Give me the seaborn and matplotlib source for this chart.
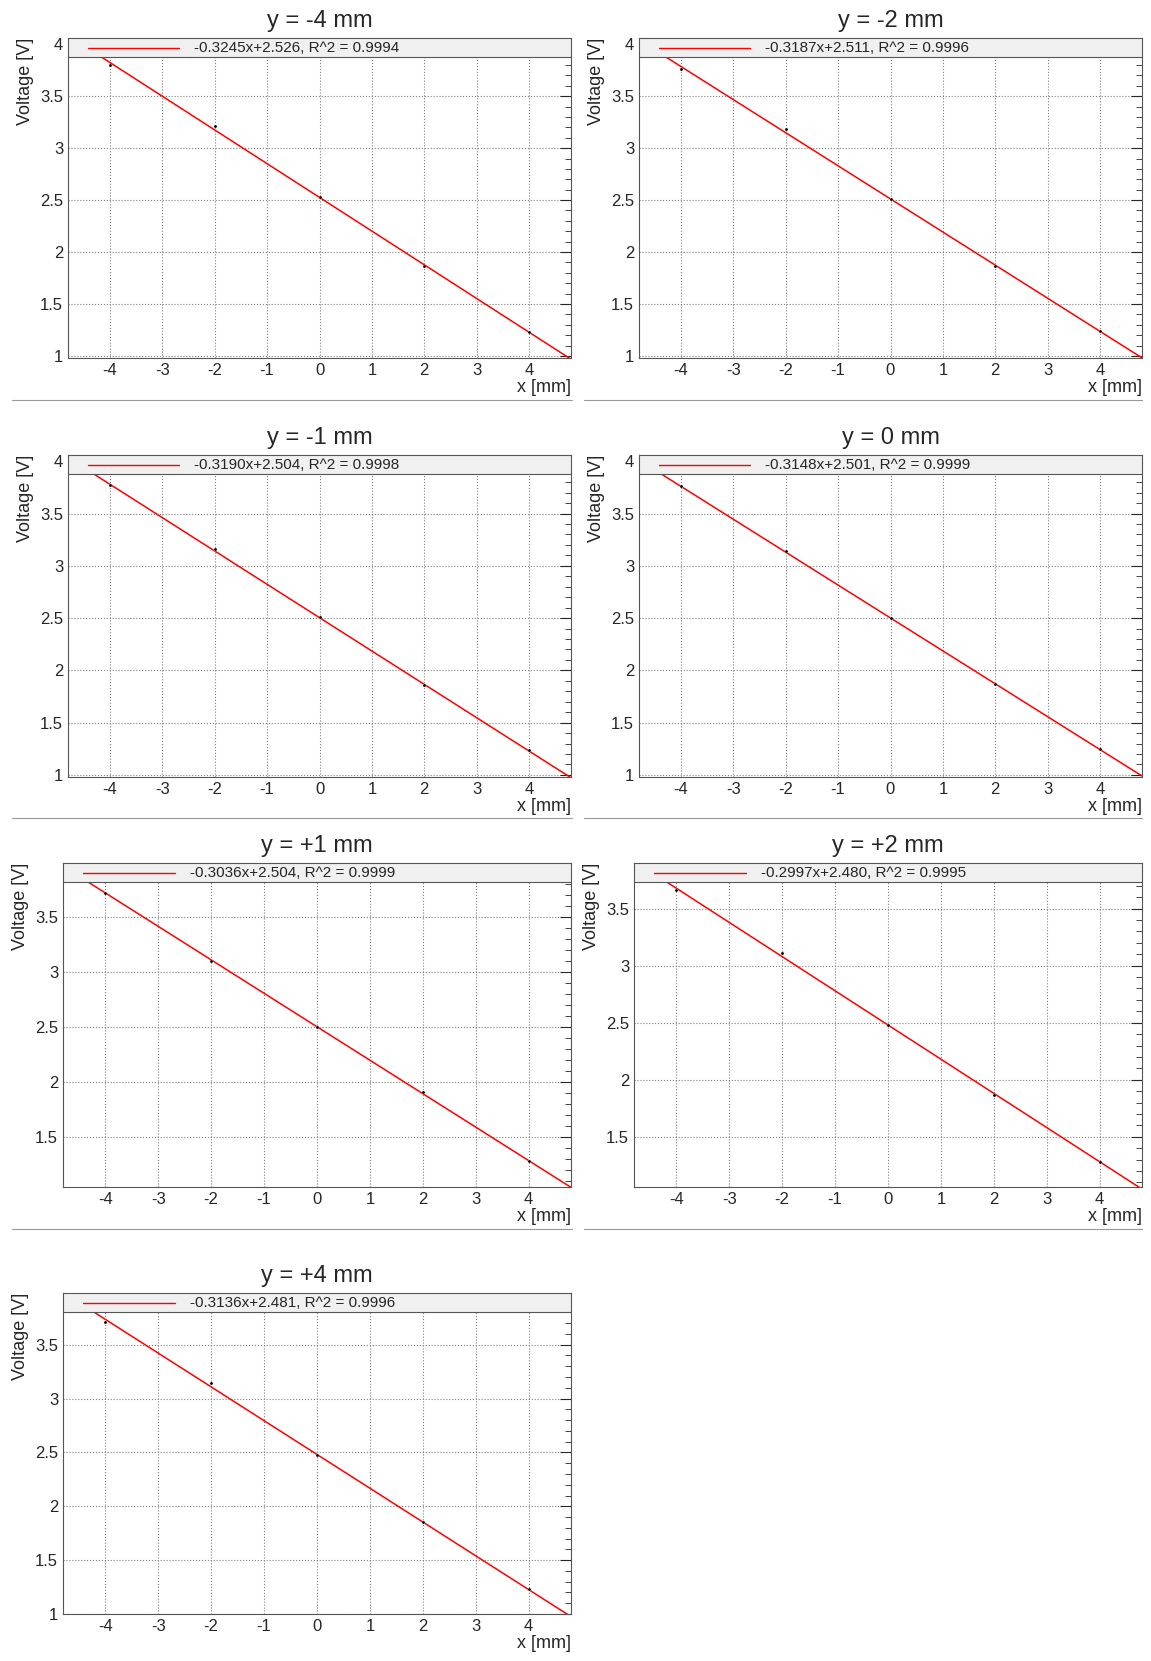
import numpy as np
import pandas as pd
import matplotlib
matplotlib.use("Agg")
import matplotlib.pyplot as plt
import seaborn as sns
from matplotlib.lines import Line2D
from matplotlib.patches import Rectangle
from matplotlib.ticker import MultipleLocator

sns.set_style("white")
plt.rcParams["font.family"] = ["Liberation Sans", "DejaVu Sans"]
plt.rcParams["axes.unicode_minus"] = False

x_pos = [-4, -2, 0, 2, 4]
titles = ["y = -4 mm", "y = -2 mm", "y = -1 mm", "y = 0 mm", "y = +1 mm", "y = +2 mm", "y = +4 mm"]
volts = [
    [3.80, 3.21, 2.53, 1.87, 1.23],
    [3.76, 3.18, 2.51, 1.87, 1.24],
    [3.77, 3.16, 2.51, 1.86, 1.24],
    [3.76, 3.14, 2.50, 1.87, 1.25],
    [3.72, 3.10, 2.50, 1.91, 1.29],
    [3.66, 3.11, 2.48, 1.87, 1.28],
    [3.71, 3.14, 2.48, 1.85, 1.23],
]
slopes = [-0.3245, -0.3187, -0.3190, -0.3148, -0.3036, -0.2997, -0.3136]
intercepts = [2.526, 2.511, 2.504, 2.501, 2.504, 2.480, 2.481]
r2 = [0.9994, 0.9996, 0.9998, 0.9999, 0.9999, 0.9995, 0.9996]
ylims = [(0.98, 4.06), (0.98, 4.06), (0.98, 4.06), (0.98, 4.06), (1.05, 3.99), (1.06, 3.90), (1.0, 3.98)]

W, H = 1151, 1661
fig = plt.figure(figsize=(W / 100, H / 100), dpi=100)

# axes boxes in pixels: left, top, right, bottom
col_x = [(68, 571), (639, 1142)]
row_y = [(38, 358), (455, 777), (863, 1187), (1293, 1614)]
sep_y = [400, 818, 1229]
col_line = [(12, 572), (584, 1142)]

for i in range(7):
    r, c = divmod(i, 2)
    l, rr = col_x[c]
    t, b = row_y[r]
    if i >= 4:
        l -= 5
    ax = fig.add_axes([l / W, 1 - b / H, (rr - l) / W, (b - t) / H])
    xs = np.linspace(-4.8, 4.8, 50)
    fit = pd.DataFrame({"x": xs, "v": slopes[i] * xs + intercepts[i]})
    pts = pd.DataFrame({"x": x_pos, "v": volts[i]})
    sns.lineplot(data=fit, x="x", y="v", ax=ax, color="red", lw=1.1)
    sns.scatterplot(data=pts, x="x", y="v", ax=ax, color="black", s=5, marker="o", zorder=5)
    ax.set_xlim(-4.8, 4.8)
    ax.set_ylim(*ylims[i])
    ax.xaxis.set_major_locator(MultipleLocator(1))
    ax.xaxis.set_minor_locator(MultipleLocator(0.2))
    ax.yaxis.set_major_locator(MultipleLocator(0.5))
    ax.yaxis.set_minor_locator(MultipleLocator(0.1))
    ax.yaxis.set_major_formatter(plt.FuncFormatter(lambda v, p: f"{v:g}"))
    ax.tick_params(which="both", direction="in", top=True, right=True, labelsize=12)
    ax.tick_params(which="major", length=8)
    ax.tick_params(which="minor", length=4)
    ax.grid(True, which="major", ls=":", color="gray", lw=0.8)
    for s in ax.spines.values():
        s.set_color("#555555")
        s.set_linewidth(0.8)
    ax.set_xlabel("x [mm]", fontsize=13, loc="right", labelpad=1)
    ax.set_ylabel("Voltage [V]", fontsize=13, loc="top")
    ax.set_title(titles[i], fontsize=17, pad=8)
    # legend bar
    ax.add_patch(Rectangle((0, 0.94), 1, 0.06, transform=ax.transAxes, facecolor="#f0f0f0",
                           edgecolor="#555555", lw=0.8, zorder=6))
    ax.add_line(Line2D([0.04, 0.22], [0.97, 0.97], transform=ax.transAxes, color="red", lw=1, zorder=7))
    ax.text(0.25, 0.97, f"{slopes[i]:.4f}x+{intercepts[i]:.3f}, R^2 = {r2[i]:.4f}",
            transform=ax.transAxes, fontsize=11, va="center", zorder=7)
    if i < 6:
        x0, x1 = col_line[c]
        fig.add_artist(Line2D([x0 / W, x1 / W], [1 - sep_y[r] / H] * 2, color="#999999", lw=0.8))

fig.savefig("out.png", dpi=100)
